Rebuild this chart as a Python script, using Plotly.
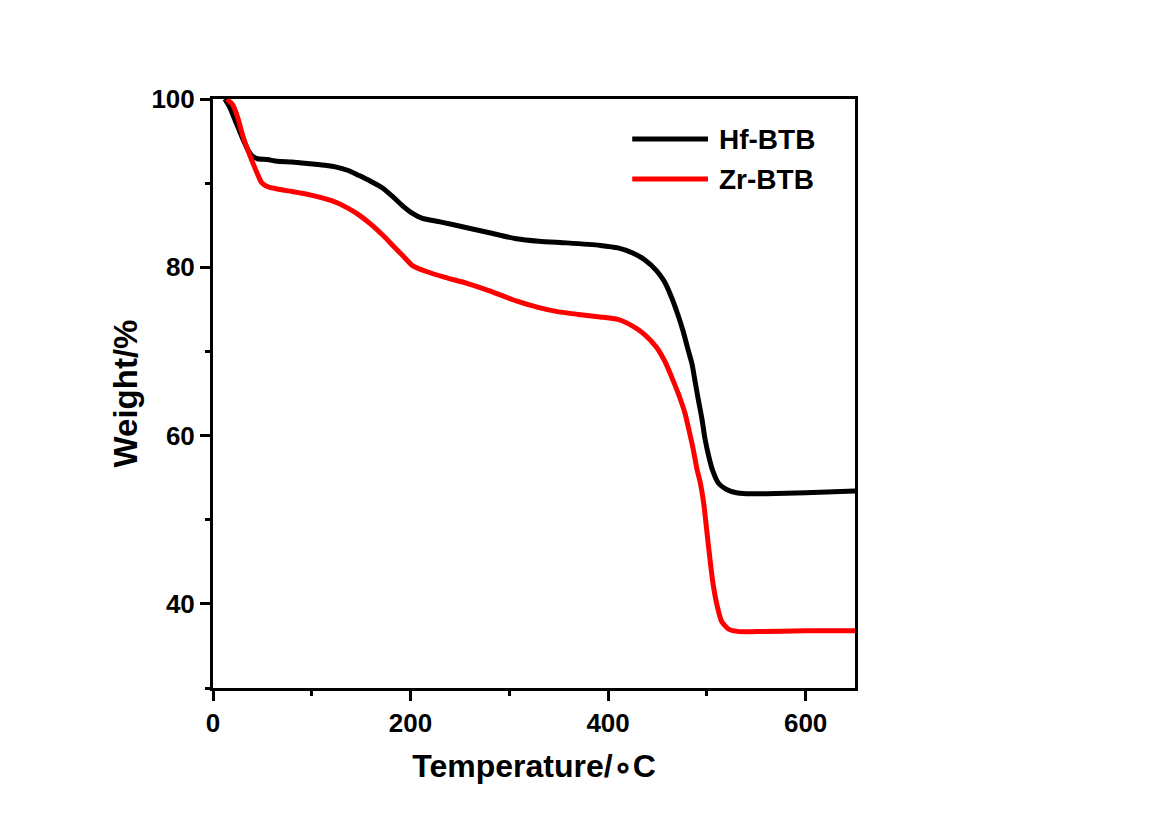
import plotly.graph_objects as go

# TGA curves: temperature (°C) vs. residual weight (%)
hf_temp = [12, 17, 23, 30, 36, 40, 45, 55, 65, 80, 98, 115, 125, 137, 148, 160, 172, 182,
           192, 202, 212, 230, 257, 280, 307, 330, 358, 392, 410, 425, 437, 449, 457, 464,
           470, 476, 481, 485, 488, 491, 495, 498, 502, 506, 512, 520, 530, 540, 560, 600, 650]
hf_weight = [100, 99, 97.3, 95.3, 93.8, 93.2, 92.9, 92.8, 92.6, 92.5, 92.3, 92.1, 91.9, 91.5,
             90.9, 90.2, 89.4, 88.4, 87.3, 86.4, 85.8, 85.4, 84.7, 84.1, 83.4, 83.1, 82.9,
             82.6, 82.3, 81.7, 80.9, 79.6, 78.3, 76.5, 74.6, 72.4, 70.2, 68.5, 66.5, 64.5,
             62.0, 59.7, 57.5, 55.8, 54.3, 53.6, 53.2, 53.1, 53.1, 53.2, 53.4]

zr_temp = [14, 20, 25, 30, 35, 40, 45, 49, 55, 65, 80, 98, 115, 125, 137, 148, 160, 172, 182,
           192, 202, 216, 235, 257, 280, 307, 330, 350, 370, 392, 410, 425, 437, 449, 458,
           466, 472, 478, 482, 486, 490, 493, 497, 500, 503, 506, 510, 515, 522, 533, 550,
           600, 650]
zr_weight = [100, 99.3, 97.8, 95.7, 94.0, 92.5, 91.1, 90.1, 89.6, 89.3, 89.0, 88.6, 88.1,
             87.7, 87.0, 86.2, 85.1, 83.8, 82.6, 81.4, 80.2, 79.5, 78.8, 78.1, 77.2, 76.0,
             75.2, 74.7, 74.4, 74.1, 73.8, 73.0, 72.0, 70.5, 68.7, 66.5, 64.7, 62.6, 60.6,
             58.5, 56.0, 54.6, 51.8, 48.6, 45.5, 42.6, 40.0, 37.9, 37.0, 36.7, 36.7, 36.8, 36.8]

series_names = ["Hf-BTB", "Zr-BTB"]
series_colors = ["#000000", "#ff0000"]

x_ticks = [0, 200, 400, 600]
y_ticks = [40, 60, 80, 100]

FONT = "Liberation Sans, Arial, sans-serif"

fig = go.Figure()
for name, xs, ys, col in zip(series_names, [hf_temp, zr_temp], [hf_weight, zr_weight], series_colors):
    fig.add_trace(go.Scatter(x=xs, y=ys, mode="lines", name=name,
                             line=dict(color=col, width=5, shape="spline", smoothing=0.6),
                             showlegend=False))

axis_common = dict(
    showline=True, linecolor="black", linewidth=3, mirror=True,
    ticks="outside", ticklen=10, tickwidth=3, tickcolor="black",
    showgrid=False, zeroline=False,
    tickfont=dict(family=FONT, size=26, color="black", weight="bold"),
)

fig.update_xaxes(
    range=[0, 650], tickvals=x_ticks,
    minor=dict(ticks="outside", ticklen=5, tickwidth=3, tickcolor="black", dtick=100, tick0=0),
    title=dict(text="Temperature/\u2218C", standoff=18,
               font=dict(family=FONT, size=32, color="black", weight="bold")),
    **axis_common,
)
fig.update_yaxes(
    range=[30, 100], tickvals=y_ticks,
    minor=dict(ticks="outside", ticklen=5, tickwidth=3, tickcolor="black", dtick=10, tick0=0),
    title=dict(text="Weight/%", standoff=4,
               font=dict(family=FONT, size=33, color="black", weight="bold")),
    **axis_common,
)

# Legend drawn as sample strokes with labels in the upper right of the plot area
legend_y = [0.932, 0.864]
for name, col, ly in zip(series_names, series_colors, legend_y):
    fig.add_shape(type="line", xref="paper", yref="paper", x0=0.653, x1=0.771, y0=ly, y1=ly,
                  line=dict(color=col, width=5))
    fig.add_annotation(xref="paper", yref="paper", x=0.785, y=ly, text=name, showarrow=False,
                       xanchor="left", yanchor="middle",
                       font=dict(family=FONT, size=28, color="black", weight="bold"))

fig.update_layout(
    width=1160, height=814,
    margin=dict(l=213, r=305, t=99, b=126),
    paper_bgcolor="white", plot_bgcolor="white",
)

fig.write_html("out.html")
